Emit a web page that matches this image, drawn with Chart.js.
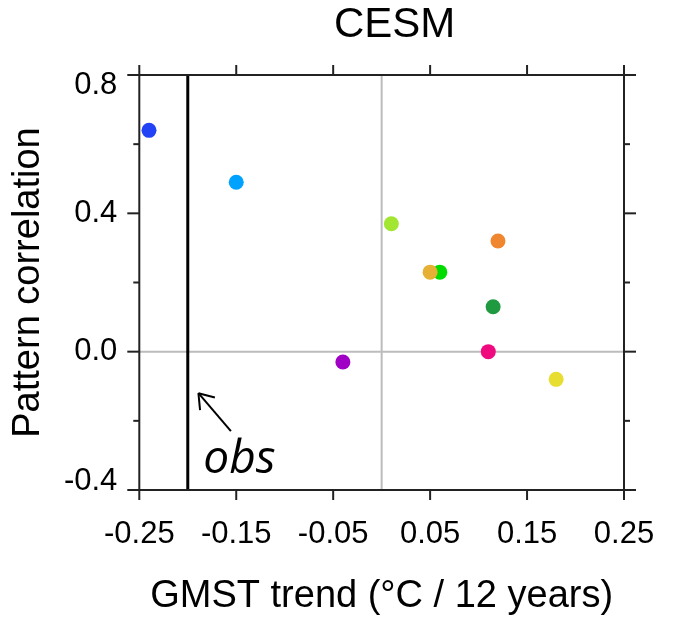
<!DOCTYPE html>
<html>
<head>
<meta charset="utf-8">
<script src="https://cdn.jsdelivr.net/npm/chart.js@4"></script>
<style>
  html, body { margin: 0; background: #fff; }
  #wrap { width: 675px; height: 624px; }
</style>
</head>
<body>
<div id="wrap"><canvas id="cesm"></canvas></div>
<script>
// GMST trend vs pattern correlation, one dot per ensemble member
const trendX = [-0.24, -0.15, 0.01, 0.12, 0.06, 0.05, 0.115, 0.11, -0.04, 0.18];
const corrY = [0.64, 0.49, 0.37, 0.32, 0.23, 0.23, 0.13, 0.0, -0.03, -0.08];
const dotColors = ['#2242f6', '#00a2ff', '#a2e632', '#f08630', '#00dc00', '#e6b034',
  '#1f9a40', '#f00a80', '#a000c6', '#e8de32'];
const xTicks = [-0.25, -0.15, -0.05, 0.05, 0.15, 0.25];
const yTicks = [0.8, 0.4, 0.0, -0.4];
const yMinorTicks = [0.6, 0.2, -0.2];
const obsTrend = -0.2;
// obs annotation: arrow tail -> tip, and label anchor (data units)
const obsArrow = [[-0.1555, -0.23], [-0.189, -0.12]];
const obsLabel = [-0.184, -0.351];
const chartTitle = 'CESM';

const FONT = "'Liberation Sans', Arial, sans-serif";

function seg(ctx, x1, y1, x2, y2) {
  ctx.beginPath();
  ctx.moveTo(x1, y1);
  ctx.lineTo(x2, y2);
  ctx.stroke();
}

const framePlugin = {
  id: 'frame',
  beforeDatasetsDraw(chart) {
    const { ctx, chartArea: a, scales: { x, y } } = chart;
    ctx.save();
    // zero lines
    ctx.strokeStyle = '#bcbcbc';
    ctx.lineWidth = 2;
    const x0 = x.getPixelForValue(0), y0 = y.getPixelForValue(0);
    seg(ctx, x0, a.top, x0, a.bottom);
    seg(ctx, a.left, y0, a.right, y0);
    // observed trend
    ctx.strokeStyle = '#000';
    ctx.lineWidth = 3;
    const xo = x.getPixelForValue(obsTrend);
    seg(ctx, xo, a.top, xo, a.bottom);
    // box and ticks
    ctx.strokeStyle = '#222';
    ctx.lineWidth = 2;
    ctx.strokeRect(a.left, a.top, a.right - a.left, a.bottom - a.top);
    xTicks.forEach(v => {
      const p = x.getPixelForValue(v);
      seg(ctx, p, a.bottom, p, a.bottom + 10);
      seg(ctx, p, a.top, p, a.top - 10);
    });
    yTicks.forEach(v => {
      const p = y.getPixelForValue(v);
      seg(ctx, a.left - 12, p, a.left, p);
      seg(ctx, a.right, p, a.right + 12, p);
    });
    yMinorTicks.forEach(v => {
      const p = y.getPixelForValue(v);
      seg(ctx, a.left - 6, p, a.left, p);
      seg(ctx, a.right, p, a.right + 6, p);
    });
    ctx.restore();
  },
  afterDatasetsDraw(chart) {
    const { ctx, chartArea: a, scales: { x, y } } = chart;
    ctx.save();
    ctx.fillStyle = '#000';
    // title, sits a little right of the box centre
    ctx.font = '42px ' + FONT;
    ctx.textAlign = 'center';
    ctx.textBaseline = 'middle';
    ctx.fillText(chartTitle, (a.left + a.right) / 2 + 13, 25);
    // y tick labels, kept inside the box height like the original
    ctx.font = '31px ' + FONT;
    ctx.textAlign = 'right';
    yTicks.forEach(v => {
      const p = Math.min(Math.max(y.getPixelForValue(v), a.top + 10), a.bottom - 9);
      ctx.fillText(v.toFixed(1), a.left - 22, p);
    });
    // obs arrow
    const tx = x.getPixelForValue(obsArrow[0][0]), ty = y.getPixelForValue(obsArrow[0][1]);
    const hx = x.getPixelForValue(obsArrow[1][0]), hy = y.getPixelForValue(obsArrow[1][1]);
    ctx.strokeStyle = '#000';
    ctx.lineWidth = 2;
    seg(ctx, tx, ty, hx, hy);
    const ang = Math.atan2(ty - hy, tx - hx);
    const spread = 35 * Math.PI / 180;
    [ang - spread, ang + spread].forEach(t => {
      seg(ctx, hx, hy, hx + 17 * Math.cos(t), hy + 17 * Math.sin(t));
    });
    ctx.font = "italic 46px 'Open Sans', 'Noto Sans', sans-serif";
    ctx.textAlign = 'left';
    ctx.textBaseline = 'alphabetic';
    ctx.fillText('obs', x.getPixelForValue(obsLabel[0]), y.getPixelForValue(obsLabel[1]));
    ctx.restore();
  }
};

new Chart(document.getElementById('cesm'), {
  type: 'scatter',
  data: {
    datasets: [{
      label: chartTitle,
      data: trendX.map((v, i) => ({ x: v, y: corrY[i] })),
      pointBackgroundColor: dotColors,
      pointBorderWidth: 0,
      pointRadius: 7.5,
      showLine: false
    }]
  },
  options: {
    responsive: true,
    maintainAspectRatio: false,
    animation: false,
    events: [],
    layout: { padding: { top: 75, right: 51, left: 0, bottom: 0 } },
    plugins: {
      legend: { display: false },
      tooltip: { enabled: false },
      title: { display: false }
    },
    scales: {
      x: {
        type: 'linear',
        min: -0.25,
        max: 0.25,
        afterBuildTicks: s => { s.ticks = xTicks.map(v => ({ value: v })); },
        afterFit: s => { s.height = 134; s.paddingLeft = 0; s.paddingRight = 0; },
        grid: { display: false, drawTicks: false },
        border: { display: false },
        ticks: {
          color: '#000',
          padding: 26,
          maxRotation: 0,
          autoSkip: false,
          font: { family: FONT, size: 31 },
          callback: v => v.toFixed(2)
        },
        title: {
          display: true,
          text: 'GMST trend (°C / 12 years)',
          color: '#000',
          font: { family: FONT, size: 38, lineHeight: 1.2 },
          padding: { top: 0, bottom: 5 }
        }
      },
      y: {
        type: 'linear',
        min: -0.4,
        max: 0.8,
        afterBuildTicks: s => { s.ticks = yTicks.map(v => ({ value: v })); },
        afterFit: s => { s.width = 139.3; s.paddingTop = 0; s.paddingBottom = 0; },
        grid: { display: false, drawTicks: false },
        border: { display: false },
        ticks: { display: false },
        title: {
          display: true,
          text: 'Pattern correlation',
          color: '#000',
          font: { family: FONT, size: 38, lineHeight: 1.2 },
          padding: { top: 6, bottom: 0 }
        }
      }
    }
  },
  plugins: [framePlugin]
});
</script>
</body>
</html>
